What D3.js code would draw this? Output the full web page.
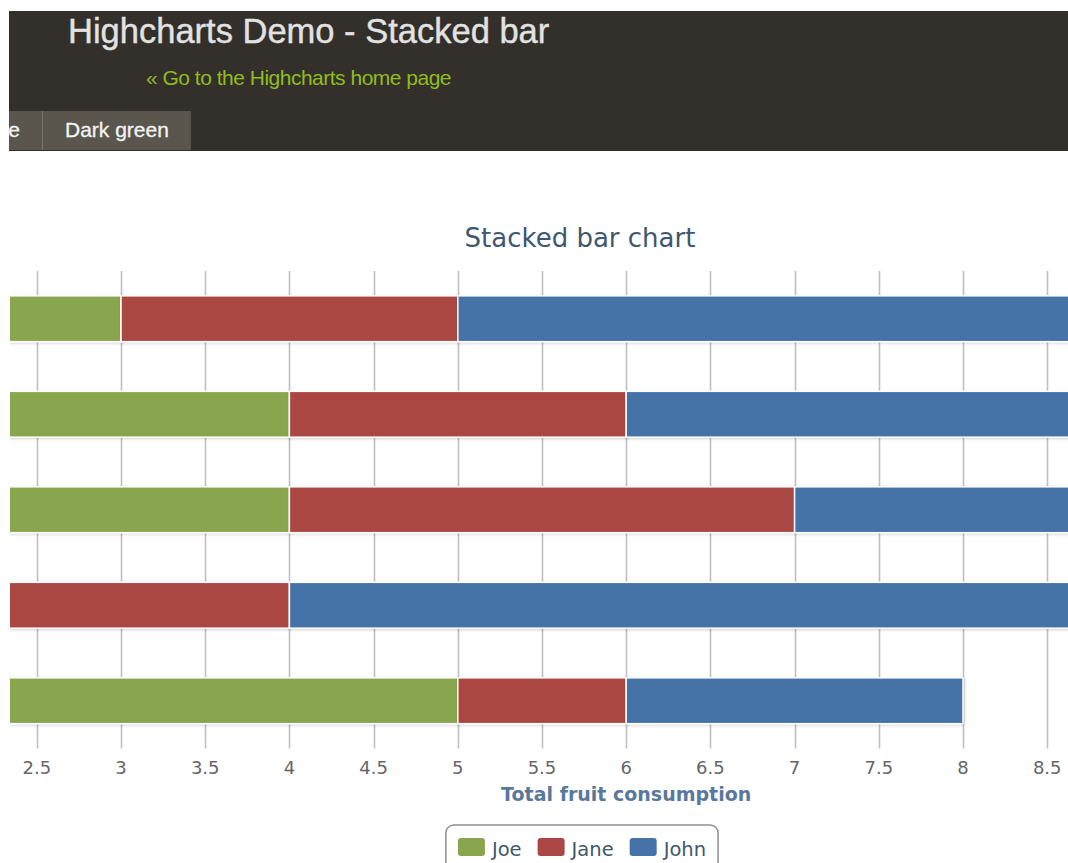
<!DOCTYPE html>
<html>
<head>
<meta charset="utf-8">
<title>Highcharts Demo - Stacked bar</title>
<script src="https://cdn.jsdelivr.net/npm/d3@7/dist/d3.min.js"></script>
<style>
  html, body { margin: 0; padding: 0; background: #ffffff; }
  svg { display: block; }
</style>
</head>
<body>
<svg id="page" width="1068" height="863"></svg>
<script>
// Fruit eaten per person, one value per category
const categories = ["Apples", "Oranges", "Pears", "Grapes", "Bananas"];
const john = [5, 3, 4, 7, 2];
const jane = [2, 2, 3, 2, 1];
const joe  = [3, 4, 4, 2, 5];

// Stacking order from the axis outward, and legend order
const stackKeys = ["Joe", "Jane", "John"];
const seriesColors = { Joe: "#89A54E", Jane: "#AA4643", John: "#4572A7" };

// Value-axis tick labels shown along the bottom
const tickValues = [2.5, 3, 3.5, 4, 4.5, 5, 5.5, 6, 6.5, 7, 7.5, 8, 8.5];
const valueDomain = [0, 12];

// Theme tabs in the page header
const tabs = ["Dark blue", "Dark green"];

const svg = d3.select("#page");
const W = 1068, H = 863;

/* ---------- page header ---------- */
const header = svg.append("g");
header.append("rect")
  .attr("x", 9).attr("y", 11).attr("width", W - 9).attr("height", 140)
  .attr("fill", "#332f2a");

header.append("text")
  .attr("x", 68).attr("y", 43)
  .attr("font-family", "Liberation Sans, Arial, sans-serif")
  .attr("font-size", 34.5)
  .attr("fill", "#e2e2e2")
  .attr("stroke", "#e2e2e2").attr("stroke-width", 0.4)
  .text("Highcharts Demo - Stacked bar");

header.append("text")
  .attr("x", 146).attr("y", 85)
  .attr("font-family", "Liberation Sans, Arial, sans-serif")
  .attr("font-size", 21)
  .attr("letter-spacing", -0.5)
  .attr("fill", "#8fbc1e")
  .text("\u00AB Go to the Highcharts home page");

// tabs, laid out right-to-left so the last one starts at x = 43
const tabG = header.append("g");
const tabPad = 22, tabTop = 111, tabH = 39, lastTabX = 43;
const tabFont = { family: "Liberation Sans, Arial, sans-serif", size: 21 };
const tabW = tabs.map(t => {
  const tmp = tabG.append("text")
    .attr("font-family", tabFont.family).attr("font-size", tabFont.size).text(t);
  const w = tmp.node().getComputedTextLength();
  tmp.remove();
  return w + tabPad * 2;
});
let tx = lastTabX;
const tabX = [];
for (let i = tabs.length - 1; i >= 0; i--) {
  if (i < tabs.length - 1) tx -= tabW[i] + 1;
  tabX[i] = tx;
}
tabs.forEach((t, i) => {
  tabG.append("rect")
    .attr("x", tabX[i]).attr("y", tabTop)
    .attr("width", tabW[i]).attr("height", tabH)
    .attr("fill", "#5b564d");
  tabG.append("text")
    .attr("x", tabX[i] + tabPad).attr("y", tabTop + 26)
    .attr("font-family", tabFont.family).attr("font-size", tabFont.size)
    .attr("fill", "#f4f4f4")
    .attr("stroke", "#f4f4f4").attr("stroke-width", 0.3)
    .text(t);
});
tabs.slice(1).forEach((t, j) => {
  tabG.append("line")
    .attr("x1", tabX[j + 1] - 0.5).attr("x2", tabX[j + 1] - 0.5)
    .attr("y1", tabTop).attr("y2", tabTop + tabH)
    .attr("stroke", "#7a746b").attr("stroke-width", 1);
});
// keep the header band from spilling into the page margin
header.attr("clip-path", "url(#pageClip)");

/* ---------- chart ---------- */
const defs = svg.append("defs");
defs.append("clipPath").attr("id", "pageClip")
  .append("rect").attr("x", 9).attr("y", 0).attr("width", W - 9).attr("height", H);
defs.append("clipPath").attr("id", "plotClip")
  .append("rect").attr("x", 10).attr("y", 0).attr("width", W - 10).attr("height", H);

const shadow = defs.append("filter").attr("id", "barShadow")
  .attr("x", "-5%").attr("y", "-30%").attr("width", "110%").attr("height", "160%");
shadow.append("feDropShadow")
  .attr("dx", 1).attr("dy", 1).attr("stdDeviation", 1.5)
  .attr("flood-color", "#000").attr("flood-opacity", 0.18);

const plotTop = 271, plotBottom = 748.5;
const x = d3.scaleLinear().domain(valueDomain).range([-384.2, 1636.6]);
const y = d3.scaleBand().domain(categories)
  .range([plotTop, plotBottom])
  .paddingInner(0.52).paddingOuter(0.26);

const chart = svg.append("g").attr("clip-path", "url(#plotClip)");

// vertical grid lines
chart.append("g").selectAll("line").data(tickValues).join("line")
  .attr("x1", d => Math.round(x(d)) + 0.5).attr("x2", d => Math.round(x(d)) + 0.5)
  .attr("y1", plotTop).attr("y2", plotBottom)
  .attr("stroke", "#c0c0c0").attr("stroke-width", 1.6);

// stacked bars
const rows = categories.map((c, i) => ({ category: c, John: john[i], Jane: jane[i], Joe: joe[i] }));
const stacked = d3.stack().keys(stackKeys)(rows);

chart.append("g").selectAll("g").data(stacked).join("g")
  .attr("fill", d => seriesColors[d.key])
  .selectAll("rect").data(d => d).join("rect")
  .attr("x", d => x(d[0]))
  .attr("y", d => y(d.data.category))
  .attr("width", d => x(d[1]) - x(d[0]))
  .attr("height", y.bandwidth())
  .attr("stroke", "#ffffff").attr("stroke-width", 1.5)
  .attr("filter", "url(#barShadow)");

// value-axis labels
chart.append("g").selectAll("text").data(tickValues).join("text")
  .attr("x", d => x(d)).attr("y", 774)
  .attr("text-anchor", "middle")
  .attr("font-family", "DejaVu Sans, Verdana, sans-serif")
  .attr("font-size", 18)
  .attr("fill", "#666666")
  .text(d => d3.format("~g")(d));

// value-axis title, centred on the plot
svg.append("text")
  .attr("x", x((valueDomain[0] + valueDomain[1]) / 2)).attr("y", 801)
  .attr("text-anchor", "middle")
  .attr("font-family", "DejaVu Sans, Verdana, sans-serif")
  .attr("font-size", 19).attr("font-weight", "bold")
  .attr("fill", "#58799b")
  .text("Total fruit consumption");

// chart title
const chartCenter = 580;
svg.append("text")
  .attr("x", chartCenter).attr("y", 247)
  .attr("text-anchor", "middle")
  .attr("font-family", "DejaVu Sans, Verdana, sans-serif")
  .attr("font-size", 26)
  .attr("fill", "#3E576F")
  .text("Stacked bar chart");

/* ---------- legend ---------- */
const legend = svg.append("g");
const symW = 27, symH = 18, symGap = 7, itemGap = 16, boxPad = 12;
const legendFont = { family: "DejaVu Sans, Verdana, sans-serif", size: 19.5 };
const items = stackKeys.map(k => {
  const t = legend.append("text")
    .attr("font-family", legendFont.family).attr("font-size", legendFont.size)
    .attr("fill", "#3E576F").text(k);
  return { key: k, node: t, w: t.node().getComputedTextLength() };
});
const innerW = d3.sum(items, d => symW + symGap + d.w) + itemGap * (items.length - 1);
const boxW = innerW + boxPad * 2;
const boxX = chartCenter + 2 - boxW / 2, boxY = 825;
legend.insert("rect", ":first-child")
  .attr("x", boxX).attr("y", boxY).attr("width", boxW).attr("height", 60)
  .attr("rx", 8).attr("ry", 8)
  .attr("fill", "#ffffff").attr("stroke", "#909090").attr("stroke-width", 1.5);
let lx = boxX + boxPad;
items.forEach(it => {
  legend.append("rect")
    .attr("x", lx).attr("y", 838).attr("width", symW).attr("height", symH)
    .attr("rx", 3).attr("ry", 3)
    .attr("fill", seriesColors[it.key]);
  it.node.attr("x", lx + symW + symGap).attr("y", 856);
  lx += symW + symGap + it.w + itemGap;
});
</script>
</body>
</html>
